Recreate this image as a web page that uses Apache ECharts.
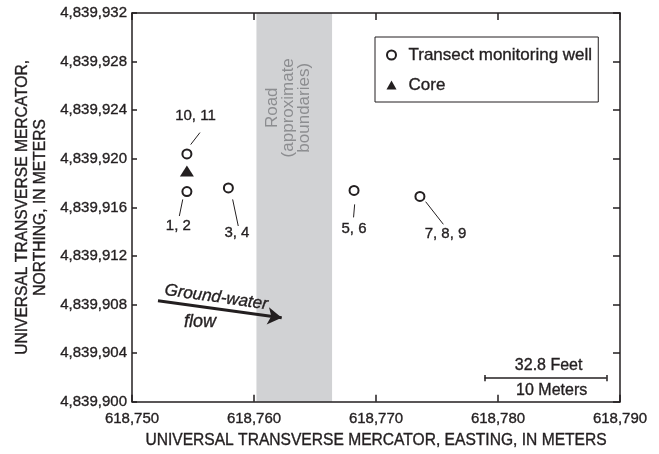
<!DOCTYPE html>
<html>
<head>
<meta charset="utf-8">
<script src="https://cdn.jsdelivr.net/npm/echarts@6/dist/echarts.min.js"></script>
<style>html,body{margin:0;padding:0;background:#fff}#c{width:659px;height:454px}</style>
</head>
<body>
<div id="c"></div>
<script>
// ---- data ----
const wellLabels = ['10, 11', '1, 2', '3, 4', '5, 6', '7, 8, 9'];
const wellEasting = [618754.5, 618754.5, 618757.9, 618768.2, 618773.6];
const wellNorthing = [4839920.4, 4839917.3, 4839917.6, 4839917.4, 4839916.9];
const coreEasting = [618754.5];
const coreNorthing = [4839919.0];
const roadEdges = [618760.2, 618766.4];
const xTicks = [618750, 618760, 618770, 618780, 618790];
const yTicks = [4839900, 4839904, 4839908, 4839912, 4839916, 4839920, 4839924, 4839928, 4839932];
const scaleBarMeters = 10;
const scaleBarFeet = 32.8;

// ---- annotation anchors (data coordinates) ----
const labelAnchors = [[618755.2, 4839923.5], [618753.8, 4839914.5], [618758.6, 4839913.9], [618768.2, 4839914.2], [618775.7, 4839913.8]];
const leaderLines = [
  [[618755.57, 4839922.16], [618754.81, 4839921.17]],
  [[618754.16, 4839916.66], [618753.88, 4839915.29]],
  [[618758.25, 4839916.66], [618758.71, 4839914.47]],
  [[618768.25, 4839916.25], [618768.16, 4839915.18]],
  [[618774.07, 4839916.47], [618775.52, 4839914.61]]
];
const flowArrow = [[618752.13, 4839908.32], [618762.27, 4839906.92]];
const scaleBarStart = [618778.9, 4839901.95];

const FONT = '"Liberation Sans", Arial, sans-serif';
const INK = '#231f20';
const HEAVY = {textBorderColor: INK, textBorderWidth: 0.35};
const fmt = v => v.toLocaleString('en-US');

const chart = echarts.init(document.getElementById('c'), null, {renderer: 'canvas'});

const textSeries = (name, items, style) => ({
  type: 'scatter', name, silent: true, symbolSize: 1,
  itemStyle: {color: 'rgba(0,0,0,0)', opacity: 1},
  data: items.map(it => ({value: it.value, name: it.text, label: it.label || {}})),
  label: Object.assign({show: true, position: 'inside', formatter: '{b}', fontFamily: FONT, fontSize: 15, color: INK}, HEAVY, style || {}),
  z: 5
});

const option = {
  animation: false,
  textStyle: {fontFamily: FONT},
  grid: {left: 132, right: 39, top: 13, bottom: 51},
  legend: {
    data: [{name: 'Transect monitoring well'}, {name: 'Core', itemStyle: {}}],
    orient: 'vertical', left: 375, top: 37,
    padding: [9, 6, 8, 11],
    itemWidth: 10, itemHeight: 9, itemGap: 12,
    borderColor: INK, borderWidth: 1,
    selectedMode: false,
    textStyle: Object.assign({fontFamily: FONT, fontSize: 17, color: INK, lineHeight: 18, padding: [0, 0, 0, 7]}, HEAVY)
  },
  xAxis: [{
    type: 'value', min: xTicks[0], max: xTicks[xTicks.length - 1], interval: 10,
    name: 'UNIVERSAL TRANSVERSE MERCATOR, EASTING, IN METERS',
    nameLocation: 'middle', nameGap: 31,
    nameTextStyle: Object.assign({fontFamily: FONT, fontSize: 15.6, color: INK}, HEAVY),
    axisLine: {lineStyle: {color: INK, width: 1.5}},
    axisTick: {inside: true, length: 7, lineStyle: {color: INK, width: 1.5}},
    axisLabel: Object.assign({formatter: fmt, fontFamily: FONT, fontSize: 15, color: INK, margin: 10}, HEAVY),
    splitLine: {show: false}, z: 10
  }, {
    type: 'value', position: 'top', min: xTicks[0], max: xTicks[xTicks.length - 1], interval: 10,
    axisLine: {lineStyle: {color: INK, width: 1.5}},
    axisTick: {inside: true, length: 7, lineStyle: {color: INK, width: 1.5}},
    axisLabel: {show: false}, splitLine: {show: false}, z: 10
  }],
  yAxis: [{
    type: 'value', min: yTicks[0], max: yTicks[yTicks.length - 1], interval: 4,
    name: 'UNIVERSAL TRANSVERSE MERCATOR,\nNORTHING, IN METERS',
    nameLocation: 'middle', nameGap: 81,
    nameTextStyle: Object.assign({fontFamily: FONT, fontSize: 15.6, color: INK, lineHeight: 18}, HEAVY),
    axisLine: {lineStyle: {color: INK, width: 1.5}},
    axisTick: {inside: true, length: 5, lineStyle: {color: INK, width: 1.5}},
    axisLabel: Object.assign({formatter: fmt, fontFamily: FONT, fontSize: 15, color: INK, margin: 5}, HEAVY),
    splitLine: {show: false}, z: 10
  }, {
    type: 'value', position: 'right', min: yTicks[0], max: yTicks[yTicks.length - 1], interval: 4,
    axisLine: {lineStyle: {color: INK, width: 1.5}},
    axisTick: {inside: true, length: 7, lineStyle: {color: INK, width: 1.5}},
    axisLabel: {show: false}, splitLine: {show: false}, z: 10
  }],
  series: [
    {
      type: 'scatter', name: 'Road', silent: true, data: [],
      markArea: {silent: true, itemStyle: {color: '#d1d2d4'},
        data: [[{xAxis: roadEdges[0]}, {xAxis: roadEdges[1]}]]},
      z: 1
    },
    {
      type: 'scatter', name: 'Transect monitoring well',
      symbol: 'circle', symbolSize: 9,
      itemStyle: {color: '#fff', borderColor: INK, borderWidth: 2, opacity: 1},
      data: wellEasting.map((x, i) => [x, wellNorthing[i]]), z: 4
    },
    {
      type: 'scatter', name: 'Core',
      symbol: 'triangle', symbolSize: [14, 11],
      itemStyle: {color: INK, borderWidth: 0, opacity: 1},
      data: coreEasting.map((x, i) => [x, coreNorthing[i]]), z: 4
    },
    {
      type: 'line', name: 'leaders', silent: true, data: [],
      markLine: {silent: true, symbol: ['none', 'none'], label: {show: false},
        lineStyle: {color: INK, width: 1, type: 'solid'},
        data: leaderLines.map(s => [{coord: s[0]}, {coord: s[1]}])},
      z: 3
    },
    {
      type: 'line', name: 'flow', silent: true, data: [],
      markLine: {silent: true, symbol: ['none', 'arrow'], symbolSize: [13, 14], label: {show: false},
        lineStyle: {color: INK, width: 3, type: 'solid'},
        data: [[{coord: flowArrow[0]}, {coord: flowArrow[1]}]]},
      z: 3
    },
    {
      type: 'line', name: 'scalebar', silent: true, data: [],
      markLine: {silent: true, symbol: ['none', 'none'], label: {show: false},
        lineStyle: {color: INK, width: 1.5, type: 'solid'},
        data: [
          [{coord: scaleBarStart}, {coord: [scaleBarStart[0] + scaleBarMeters, scaleBarStart[1]]}],
          [{coord: [scaleBarStart[0], scaleBarStart[1] - 0.25]}, {coord: [scaleBarStart[0], scaleBarStart[1] + 0.25]}],
          [{coord: [scaleBarStart[0] + scaleBarMeters, scaleBarStart[1] - 0.25]}, {coord: [scaleBarStart[0] + scaleBarMeters, scaleBarStart[1] + 0.25]}]
        ]},
      z: 3
    },
    textSeries('wellLabels', wellLabels.map((t, i) => ({text: t, value: labelAnchors[i]}))),
    textSeries('scaleText', [
      {text: scaleBarFeet + ' Feet', value: [scaleBarStart[0] + 5.25, 4839903.0]},
      {text: scaleBarMeters + ' Meters', value: [scaleBarStart[0] + 5.5, 4839900.93]}
    ], {fontSize: 16}),
    textSeries('roadText', [{text: 'Road\n(approximate\nboundaries)', value: [618762.8, 4839924.2]}],
      {rotate: 90, color: '#8c8d90', fontSize: 17, lineHeight: 16, align: 'center', textBorderWidth: 0}),
    textSeries('flowText', [
      {text: 'Ground-water', value: [618756.9, 4839908.6], label: {rotate: -8}},
      {text: 'flow', value: [618755.57, 4839906.6], label: {fontSize: 18}}
    ], {fontStyle: 'italic', fontSize: 17})
  ]
};
chart.setOption(option);
</script>
</body>
</html>
